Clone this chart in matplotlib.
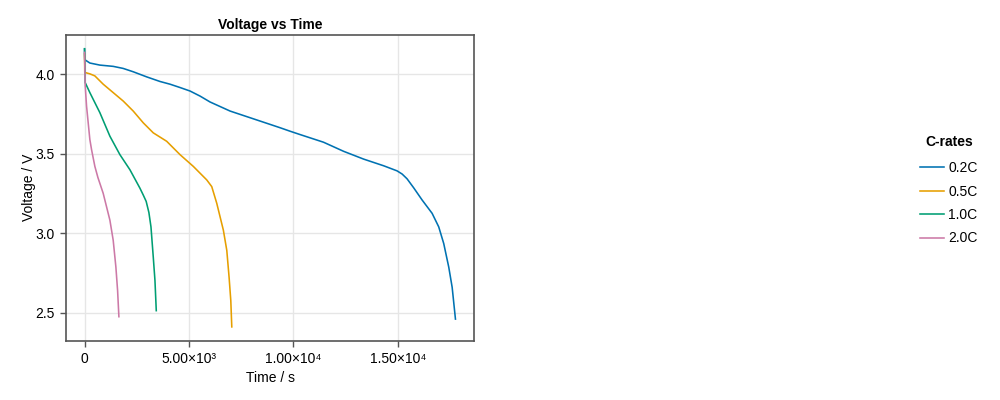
import matplotlib
matplotlib.use("Agg")
import matplotlib.pyplot as plt
from matplotlib.ticker import FuncFormatter, FixedLocator
import numpy as np

plt.rcParams['font.family'] = ['Liberation Sans', 'DejaVu Sans']

labels = ["0.2C", "0.5C", "1.0C", "2.0C"]
colors = ["#0072B2", "#E69F00", "#009E73", "#CC79A7"]

t_02 = [0, 10, 254, 733, 1371, 1850, 2330, 2972, 3610, 4089, 4569, 5048, 5530, 6007, 6966, 7925, 8884,
        9362, 9842, 10321, 11439, 12397, 13356, 14315, 14957, 15200, 15436, 15755, 16155, 16635,
        16951, 17191, 17431, 17594, 17752]
v_02 = [4.158, 4.091, 4.070, 4.057, 4.049, 4.036, 4.015, 3.983, 3.954, 3.937, 3.916, 3.894, 3.862, 3.825,
        3.768, 3.726, 3.684, 3.663, 3.641, 3.620, 3.572, 3.515, 3.466, 3.424, 3.392, 3.372, 3.342,
        3.285, 3.209, 3.125, 3.040, 2.935, 2.787, 2.660, 2.460]

t_05 = [0, 10, 254, 494, 892, 1371, 1850, 2330, 2810, 3289, 3931, 4569, 5206, 5849, 6088, 6328,
        6644, 6808, 6918, 7000, 7047]
v_05 = [4.127, 4.011, 4.002, 3.989, 3.937, 3.884, 3.831, 3.768, 3.694, 3.631, 3.578, 3.494, 3.420,
        3.335, 3.293, 3.188, 3.019, 2.892, 2.723, 2.576, 2.411]

t_10 = [0, 30, 254, 733, 1213, 1692, 2172, 2651, 2810, 2950, 3080, 3179, 3289, 3370, 3433]
v_10 = [4.160, 3.947, 3.884, 3.758, 3.610, 3.494, 3.399, 3.283, 3.240, 3.200, 3.130, 3.040, 2.850, 2.703, 2.513]

t_20 = [0, 30, 96, 254, 336, 494, 640, 892, 1213, 1371, 1500, 1582, 1644]
v_20 = [4.137, 3.930, 3.799, 3.589, 3.525, 3.420, 3.350, 3.251, 3.082, 2.956, 2.787, 2.639, 2.475]

series_t = [t_02, t_05, t_10, t_20]
series_v = [v_02, v_05, v_10, v_20]

x_ticks = [0, 5000, 10000, 15000]
y_ticks = [2.5, 3.0, 3.5, 4.0]

fig = plt.figure(figsize=(10, 4), dpi=100)
ax = fig.add_axes([0.066, 0.148, 0.408, 0.765])

for t, v, c, l in zip(series_t, series_v, colors, labels):
    ax.plot(t, v, color=c, lw=1.15, label=l, solid_joinstyle="round")

# Makie-style 5% padding
allt = np.concatenate([np.array(t, float) for t in series_t])
allv = np.concatenate([np.array(v, float) for v in series_v])
pt = 0.05 * (allt.max() - allt.min())
pv = 0.05 * (allv.max() - allv.min())
ax.set_xlim(allt.min() - pt, allt.max() + pt)
ax.set_ylim(allv.min() - pv, allv.max() + pv)

sup = str.maketrans("0123456789", "⁰¹²³⁴⁵⁶⁷⁸⁹")
def fmt(x, pos):
    if x == 0:
        return "0"
    e = int(np.floor(np.log10(abs(x))))
    m = x / 10**e
    return f"{m:.2f}×10" + str(e).translate(sup)

ax.xaxis.set_major_locator(FixedLocator(x_ticks))
ax.xaxis.set_major_formatter(FuncFormatter(fmt))
ax.yaxis.set_major_locator(FixedLocator(y_ticks))
ax.yaxis.set_major_formatter(FuncFormatter(lambda y, p: f"{y:.1f}"))

ax.grid(True, color="#e6e6e6", lw=1)
ax.set_axisbelow(True)
for s in ax.spines.values():
    s.set_color("#555555")
    s.set_linewidth(1.2)
ax.tick_params(axis="both", direction="out", length=4, width=1, color="#555555",
               labelsize=10, pad=4)

ax.set_title("Voltage vs Time", fontsize=10, fontweight="bold", pad=4)
ax.set_xlabel("Time / s", fontsize=10, labelpad=4)
ax.set_ylabel("Voltage / V", fontsize=10, labelpad=0)

leg = fig.legend(loc="center", bbox_to_anchor=(0.949, 0.525), title="C-rates", frameon=False,
                 fontsize=10, title_fontproperties={"weight": "bold", "size": 10},
                 handlelength=1.7, handletextpad=0.3, labelspacing=0.68)
leg._legend_box.sep = 9

fig.savefig("out.png", dpi=100)
